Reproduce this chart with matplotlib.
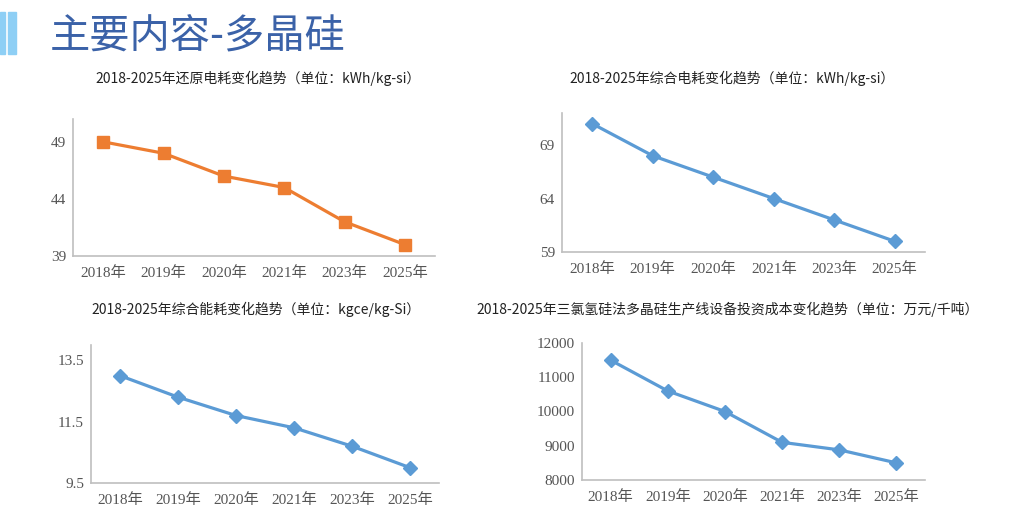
import matplotlib.pyplot as plt
from matplotlib.patches import Rectangle

# 数据
years = ['2018年', '2019年', '2020年', '2021年', '2023年', '2025年']
huanyuan_dianhao = [49, 48, 46, 45, 42, 40]
zonghe_dianhao = [71, 68, 66, 64, 62, 60]
zonghe_nenghao = [13.0, 12.3, 11.7, 11.3, 10.7, 10.0]
touzi_chengben = [11500, 10600, 10000, 9100, 8880, 8500]

titles = ['2018-2025年还原电耗变化趋势（单位：kWh/kg-si）',
          '2018-2025年综合电耗变化趋势（单位：kWh/kg-si）',
          '2018-2025年综合能耗变化趋势（单位：kgce/kg-Si）',
          '2018-2025年三氯氢硅法多晶硅生产线设备投资成本变化趋势（单位：万元/千吨）']
yticks_list = [[39, 44, 49], [59, 64, 69], [9.5, 11.5, 13.5], [8000, 9000, 10000, 11000, 12000]]
ylims = [(39, 51), (59, 72), (9.5, 14), (8000, 12000)]

plt.rcParams['font.family'] = ['Noto Sans CJK SC', 'DejaVu Sans']
tick_font = ['Liberation Serif', 'Noto Sans CJK SC']

W, H = 1024, 514
fig = plt.figure(figsize=(W / 100, H / 100), dpi=100)

# 标题栏
fig.patches.append(Rectangle((0 / W, 1 - 54 / H), 5 / W, 42 / H, transform=fig.transFigure,
                             color='#8ecff5', zorder=0))
fig.patches.append(Rectangle((8 / W, 1 - 54 / H), 8 / W, 42 / H, transform=fig.transFigure,
                             color='#8ecff5', zorder=0))
fig.text(50 / W, 1 - 36 / H, '主要内容-多晶硅', fontsize=29, color='#3b62a8', va='center', ha='left')

# 坐标区位置（像素：左、右、上、下）
boxes = [(73, 435, 119, 256), (562, 925, 113, 252), (91, 439, 345, 483), (582, 925, 343, 480)]
title_pos = [(258, 78), (732, 78), (256, 309), (728, 309)]
series = [huanyuan_dianhao, zonghe_dianhao, zonghe_nenghao, touzi_chengben]
colors = ['#ed7d31', '#5b9bd5', '#5b9bd5', '#5b9bd5']
markers = ['s', 'D', 'D', 'D']
msizes = [8, 7, 7, 7]

for i in range(4):
    l, r, t, b = boxes[i]
    ax = fig.add_axes([l / W, 1 - b / H, (r - l) / W, (b - t) / H])
    x = list(range(len(years)))
    ax.plot(x, series[i], color=colors[i], lw=2.3, marker=markers[i], markersize=msizes[i])
    ax.set_xlim(-0.5, len(years) - 0.5)
    ax.set_ylim(*ylims[i])
    ax.set_xticks(x)
    ax.set_xticklabels(years, family=tick_font, fontsize=11, color='#555555')
    ax.set_yticks(yticks_list[i])
    ax.set_yticklabels([str(v) for v in yticks_list[i]], family=tick_font, fontsize=11, color='#555555')
    ax.tick_params(axis='x', length=0, pad=7)
    ax.tick_params(axis='y', length=0, pad=5)
    for s in ['top', 'right']:
        ax.spines[s].set_visible(False)
    for s in ['left', 'bottom']:
        ax.spines[s].set_color('#bfbfbf')
        ax.spines[s].set_linewidth(1.2)
    tx, ty = title_pos[i]
    fig.text(tx / W, 1 - ty / H, titles[i], fontsize=10, ha='center', va='center', color='#222222')

fig.savefig('out.png', dpi=100)
